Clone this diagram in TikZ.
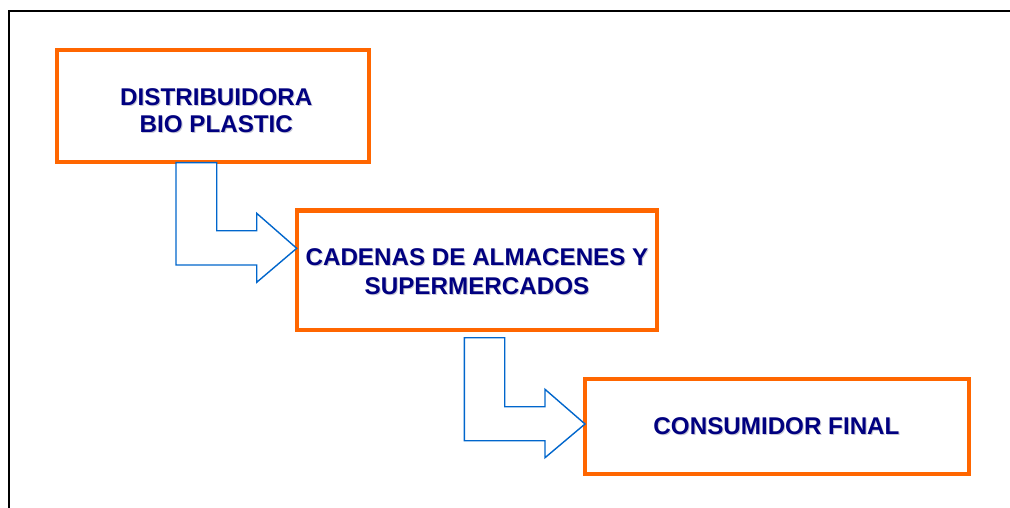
\documentclass[tikz,border=0pt]{standalone}
\usepackage{fontspec}
\setmainfont{Liberation Sans}
\usetikzlibrary{calc}
\definecolor{boxorange}{HTML}{FF6600}
\definecolor{navytext}{HTML}{000080}
\definecolor{arrowblue}{HTML}{0066CC}
\definecolor{shadowgray}{HTML}{C8C8D4}
\tikzset{
  box/.style={draw=boxorange, line width=4pt, fill=white, rectangle, inner sep=0pt},
  txt/.style={text=navytext, font=\fontsize{24.2}{27}\selectfont\bfseries, align=center, inner sep=0pt},
  txtshadow/.style={txt, text=shadowgray},
  blockarrow/.style={draw=arrowblue, line width=1.4pt, fill=white, line join=miter},
  frame/.style={draw=black, line width=2pt}
}
\begin{document}
\begin{tikzpicture}[x=1pt,y=-1pt]
\useasboundingbox (0,0) rectangle (1010,508);
\fill[white] (0,0) rectangle (1010,508);
\draw[frame] (1015,11.3) -- (8.7,11.3) -- (8.7,515);

% boxes
\node[box, minimum width=312pt, minimum height=112pt] (b1) at (213,106) {};
\node[box, minimum width=360pt, minimum height=119pt] (b2) at (476.5,270) {};
\node[box, minimum width=384pt, minimum height=95pt] (b3) at (777,426.5) {};

% block arrows
\draw[blockarrow] (176,162.7) -- (216.7,162.7) -- (216.7,230.7) -- (256.7,230.7)
  -- (256.7,213.3) -- (296.7,248.3) -- (256.7,282.3) -- (256.7,265) -- (176,265) -- cycle;
\draw[blockarrow] (464.3,337.7) -- (504.7,337.7) -- (504.7,406.7) -- (545,406.7)
  -- (545,389.3) -- (585,424) -- (545,457.7) -- (545,440.7) -- (464.3,440.7) -- cycle;

% texts with shadow
\node[txtshadow] (s1) at ($(b1)+(4.3,5.3)$) {DISTRIBUIDORA\\BIO PLASTIC};
\node[txt] (t1) at ($(b1)+(3.3,4.5)$) {DISTRIBUIDORA\\BIO PLASTIC};
\node[txtshadow] (s2) at ($(b2)+(1.5,2.3)$) {CADENAS DE ALMACENES Y\\[2pt]SUPERMERCADOS};
\node[txt] (t2) at ($(b2)+(0.5,1.5)$) {CADENAS DE ALMACENES Y\\[2pt]SUPERMERCADOS};
\node[txtshadow] (s3) at ($(b3)+(0.5,0.8)$) {CONSUMIDOR FINAL};
\node[txt] (t3) at ($(b3)+(-0.5,0)$) {CONSUMIDOR FINAL};
\end{tikzpicture}
\end{document}
